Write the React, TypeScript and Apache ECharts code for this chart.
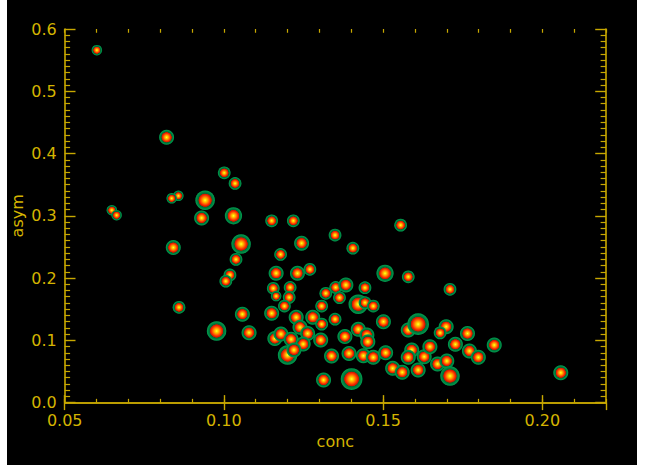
import React, { useEffect, useRef } from "react";
import * as echarts from "echarts";

// conc (x) values of the blobs
const conc = [
  0.0601, 0.082, 0.1001, 0.1035, 0.0857, 0.0836, 0.0941, 0.0648, 0.0663, 0.093,
  0.103, 0.115, 0.1218, 0.1349, 0.1244, 0.1405, 0.1555, 0.0841, 0.1054, 0.1038,
  0.1019, 0.1006, 0.1178, 0.1164, 0.1231, 0.127, 0.1155, 0.1208, 0.1164, 0.1205,
  0.119, 0.0859, 0.1058, 0.115, 0.0977, 0.1079, 0.116, 0.132, 0.1351, 0.1383,
  0.1363, 0.1443, 0.1307, 0.1422, 0.1443, 0.1469, 0.1506, 0.1579, 0.1279, 0.1349,
  0.1227, 0.1239, 0.1307, 0.1501, 0.1179, 0.1263, 0.1211, 0.1249, 0.1304, 0.138,
  0.1422, 0.1449, 0.1452, 0.12, 0.122, 0.1338, 0.1393, 0.1438, 0.1469, 0.1508,
  0.1313, 0.1401, 0.153, 0.156, 0.1579, 0.161, 0.159, 0.1579, 0.1629, 0.1647,
  0.161, 0.1671, 0.17, 0.171, 0.171, 0.1698, 0.1679, 0.1765, 0.1727, 0.1849,
  0.1771, 0.1799, 0.2058,
];

// asym (y) values of the blobs
const asym = [
  0.566, 0.426, 0.369, 0.352, 0.332, 0.328, 0.325, 0.309, 0.301, 0.2965,
  0.3, 0.292, 0.292, 0.269, 0.256, 0.248, 0.285, 0.249, 0.2547, 0.23,
  0.205, 0.195, 0.238, 0.2078, 0.2076, 0.214, 0.1835, 0.185, 0.171, 0.169,
  0.155, 0.153, 0.142, 0.1434, 0.115, 0.1123, 0.103, 0.1755, 0.185, 0.189,
  0.1685, 0.1845, 0.155, 0.158, 0.1605, 0.155, 0.2076, 0.202, 0.137, 0.134,
  0.137, 0.121, 0.126, 0.13, 0.11, 0.111, 0.1017, 0.094, 0.1005, 0.106,
  0.1177, 0.1086, 0.0978, 0.0764, 0.0845, 0.0748, 0.079, 0.0753, 0.0727, 0.08,
  0.0363, 0.0379, 0.055, 0.0487, 0.1166, 0.126, 0.0845, 0.0727, 0.0737, 0.0898,
  0.0524, 0.062, 0.0668, 0.0427, 0.182, 0.122, 0.112, 0.111, 0.0936, 0.0925,
  0.0829, 0.0727, 0.048,
];

// relative blob weight (extent of each smoothed source)
const weight = [
  1, 2, 1.5, 1.5, 1, 1, 3, 1, 1, 2,
  2.5, 1.5, 1.5, 1.5, 2, 1.5, 1.5, 2, 3, 1.5,
  1.5, 1.5, 1.5, 2, 2, 1.5, 1.5, 1.5, 1, 1.5,
  1.5, 1.5, 2, 2, 3, 2, 2, 1.5, 1.5, 2,
  1.5, 1.5, 1.5, 3, 1.5, 1.5, 2.5, 1.5, 2, 1.5,
  2, 2, 1.5, 2, 2, 2, 2, 2, 2, 2,
  2, 2, 2, 3, 2, 2, 2, 2, 2, 2,
  2, 3.5, 2, 2, 2, 3.5, 2, 2, 2, 2,
  2, 2, 2, 3, 1.5, 2, 1.5, 2, 2, 2,
  2, 2, 2,
];

const xTicks = [0.05, 0.1, 0.15, 0.2];
const yTicks = [0, 0.1, 0.2, 0.3, 0.4, 0.5, 0.6];

const AX = "#c8a800";
const TX = "#d4b400";
const FONT = "DejaVu Sans";

export default function App() {
  const ref = useRef<HTMLDivElement>(null);
  useEffect(() => {
    if (!ref.current) return;
    const chart = echarts.init(ref.current, null, { renderer: "svg" });
    const data = conc.map((c, i) => [c, asym[i], weight[i]]);
    const grad = new echarts.graphic.RadialGradient(0.5, 0.5, 0.5, [
      { offset: 0, color: "#ffff40" },
      { offset: 0.12, color: "#ffe000" },
      { offset: 0.3, color: "#ff9000" },
      { offset: 0.46, color: "#ff4400" },
      { offset: 0.6, color: "#e01a00" },
      { offset: 0.66, color: "#b82000" },
      { offset: 0.7, color: "#006b35" },
      { offset: 1, color: "#00a050" },
    ]);
    const xMin = xTicks[0];
    const xMax = 0.22;
    const yMin = yTicks[0];
    const yMax = yTicks[yTicks.length - 1];
    const baseX = {
      type: "value" as const,
      min: xMin,
      max: xMax,
      splitLine: { show: false },
    };
    const baseY = {
      type: "value" as const,
      min: yMin,
      max: yMax,
      interval: 0.1,
      splitLine: { show: false },
    };
    chart.setOption({
      animation: false,
      backgroundColor: "#000",
      grid: {
        left: 57.7,
        right: 31,
        top: 29,
        bottom: 62.4,
        containLabel: false,
        outerBoundsMode: "none",
      },
      xAxis: [
        {
          ...baseX,
          position: "bottom",
          interval: 0.05,
          axisLine: { lineStyle: { color: AX, width: 1.6 } },
          axisTick: { inside: true, length: 7.5, lineStyle: { color: AX, width: 1.4 } },
          axisLabel: {
            color: TX,
            fontFamily: FONT,
            fontSize: 16,
            margin: 10,
            showMaxLabel: false,
            formatter: (v: number) => (xTicks.some((t) => Math.abs(t - v) < 1e-9) ? v.toFixed(2) : ""),
          },
          name: "conc",
          nameLocation: "middle",
          nameGap: 31,
          nameMoveOverlap: false,
          nameTextStyle: { color: TX, fontFamily: FONT, fontSize: 16 },
        },
        {
          ...baseX,
          position: "top",
          interval: 0.05,
          axisLine: { lineStyle: { color: AX, width: 1.6 } },
          axisTick: { inside: true, length: 7.5, lineStyle: { color: AX, width: 1.4 } },
          axisLabel: { show: false },
        },
        {
          ...baseX,
          position: "bottom",
          interval: 0.01,
          axisLine: { show: false },
          axisTick: { inside: true, length: 3.75, lineStyle: { color: AX, width: 1.2 } },
          axisLabel: { show: false },
        },
        {
          ...baseX,
          position: "top",
          interval: 0.01,
          axisLine: { show: false },
          axisTick: { inside: true, length: 3.75, lineStyle: { color: AX, width: 1.2 } },
          axisLabel: { show: false },
        },
      ],
      yAxis: [
        {
          ...baseY,
          position: "left",
          axisLine: { lineStyle: { color: AX, width: 1.6 } },
          axisTick: { inside: true, length: 10.8, lineStyle: { color: AX, width: 1.4 } },
          minorTick: { show: true, splitNumber: 10, length: 5.4, lineStyle: { color: AX, width: 1.2 } },
          minorSplitLine: { show: false },
          axisLabel: {
            color: TX,
            fontFamily: FONT,
            fontSize: 16,
            margin: 8,
            formatter: (v: number) => v.toFixed(1),
          },
          name: "asym",
          nameLocation: "middle",
          nameGap: 39,
          nameMoveOverlap: false,
          nameTextStyle: { color: TX, fontFamily: FONT, fontSize: 16 },
        },
        {
          ...baseY,
          position: "right",
          axisLine: { lineStyle: { color: AX, width: 1.6 } },
          axisTick: { inside: true, length: 10.8, lineStyle: { color: AX, width: 1.4 } },
          minorTick: { show: true, splitNumber: 10, length: 5.4, lineStyle: { color: AX, width: 1.2 } },
          minorSplitLine: { show: false },
          axisLabel: { show: false },
        },
      ],
      series: [
        {
          type: "scatter",
          xAxisIndex: 0,
          yAxisIndex: 0,
          data,
          symbol: "circle",
          symbolSize: (v: number[]) => 6 + 4.5 * v[2],
          itemStyle: { color: grad, opacity: 1 },
          emphasis: { disabled: true },
        },
      ],
    });
    return () => chart.dispose();
  }, []);
  return (
    <div style={{ position: "fixed", left: 0, top: 0, width: 645, height: 465, background: "#fff" }}>
      <div
        ref={ref}
        style={{ position: "absolute", left: 7, top: 0, width: 630, height: 465, background: "#000" }}
      />
    </div>
  );
}
